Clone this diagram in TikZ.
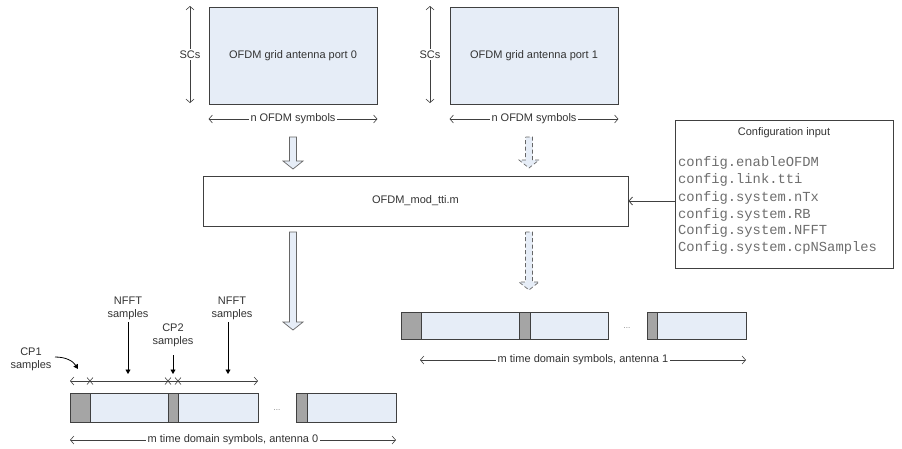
\documentclass[tikz,border=0pt]{standalone}
\usepackage{fontspec}
\setmainfont{Liberation Sans}
\setmonofont{Liberation Mono}
\usetikzlibrary{arrows.meta,calc}
\definecolor{lb}{HTML}{E6EDF7}
\definecolor{cpg}{HTML}{A5A5A5}
\definecolor{bd}{HTML}{404040}
\definecolor{tx}{HTML}{333333}
\definecolor{monoc}{HTML}{6E6E6E}
\newcommand\blkarrow[3]{%
  \path[#1] let \p1=#2, \p2=#3 in
    ({\x1-3.5pt},\y1) -- ({\x1+3.5pt},\y1) -- ({\x1+3.5pt},{\y2+8pt}) --
    ({\x1+10pt},{\y2+8pt}) -- (\x1,\y2) -- ({\x1-10pt},{\y2+8pt}) --
    ({\x1-3.5pt},{\y2+8pt}) -- cycle;}
\begin{document}
\begin{tikzpicture}[x=1pt,y=-1pt,
  font=\fontsize{11}{13}\selectfont, text=tx,
  gridbox/.style={draw=bd,fill=lb,line width=0.9pt,minimum width=168pt,minimum height=97pt,inner sep=0pt},
  plainbox/.style={draw=bd,fill=white,line width=0.9pt,inner sep=0pt},
  symbox/.style={draw=bd,fill=lb,line width=0.9pt,minimum height=29pt,inner sep=0pt,anchor=north west},
  cpbox/.style={draw=bd,fill=cpg,line width=0.9pt},
  dimline/.style={draw=bd,line width=0.6pt,{Straight Barb[length=3.5pt,width=8pt]}-{Straight Barb[length=3.5pt,width=8pt]}},
  onlabel/.style={fill=white,inner sep=1.5pt},
  pointer/.style={draw=black,line width=0.8pt,-{Triangle[length=4.5pt,width=5pt]}},
  blksolid/.style={draw=bd!80,fill=lb,line width=0.7pt},
  blkdashed/.style={draw=bd!80,fill=lb,line width=0.7pt,dash pattern=on 4pt off 2.5pt},
  monoline/.style={font=\fontsize{13.8}{16}\ttfamily,text=monoc,anchor=west,inner sep=0pt,text height=9pt,text depth=3pt},
  dotsl/.style={font=\fontsize{8}{9}\selectfont,text=bd!70}
]
\useasboundingbox (0,0) rectangle (902,448);

% OFDM grids
\node[gridbox] (g0) at (293,55.5) {OFDM grid antenna port 0};
\node[gridbox] (g1) at (534,55.5) {OFDM grid antenna port 1};
\draw[dimline] (190,6) -- (190,103) node[midway,onlabel] (sc0) {SCs};
\draw[dimline] (430,6) -- (430,103) node[midway,onlabel] (sc1) {SCs};
\draw[dimline] (g0.south west |- 0,119) -- (g0.south east |- 0,119) node[midway,onlabel] (n0) {n OFDM symbols};
\draw[dimline] (g1.south west |- 0,119) -- (g1.south east |- 0,119) node[midway,onlabel] (n1) {n OFDM symbols};

% modulator
\node[plainbox,minimum width=425pt,minimum height=50pt] (mod) at (415.5,201) {OFDM\_mod\_tti.m};

% configuration
\node[plainbox,minimum width=218pt,minimum height=148pt] (cfg) at (784,194) {};
\node (cfgt) at (784,133) {Configuration input};
\node[monoline] (c1) at (678,163) {config.enableOFDM};
\node[monoline] (c2) at (678,180.5) {config.link.tti};
\node[monoline] (c3) at (678,198) {config.system.nTx};
\node[monoline] (c4) at (678,215) {config.system.RB};
\node[monoline] (c5) at (678,231.5) {Config.system.NFFT};
\node[monoline] (c6) at (678,248.5) {Config.system.cpNSamples};
\draw[draw=bd,line width=0.8pt,-{Straight Barb[length=3.5pt,width=8pt]}] (cfg.west |- mod.east) -- (mod.east);

% block arrows
\coordinate (a0t) at (293,137); \coordinate (a0b) at (293,169);
\coordinate (a1t) at (529,137); \coordinate (a1b) at (529,168);
\coordinate (a2t) at (293,232); \coordinate (a2b) at (293,330);
\coordinate (a3t) at (529,232); \coordinate (a3b) at (529,290);
\blkarrow{blksolid}{(a0t)}{(a0b)}
\blkarrow{blkdashed}{(a1t)}{(a1b)}
\blkarrow{blksolid}{(a2t)}{(a2b)}
\blkarrow{blkdashed}{(a3t)}{(a3b)}

% antenna 0 symbols
\node[symbox,minimum width=188pt] (s0) at (70,393) {};
\draw[cpbox] (s0.north west) rectangle ++(20,29);
\draw[cpbox] (168,393) rectangle (178,422);
\node[dotsl] (d0) at (277,410) {...};
\node[symbox,minimum width=100pt] (s0b) at (296,393) {};
\draw[cpbox] (s0b.north west) rectangle ++(11,29);
\draw[dimline] (70,440) -- (396,440) node[midway,onlabel] (m0) {m time domain symbols, antenna 0};

% dimension line with ticks
\draw[dimline] (70,381) -- (258,381);
\foreach \xx in {90,168,178}{
  \draw[draw=bd,line width=0.6pt] (\xx-3,377.5) -- (\xx+3,384.5) (\xx-3,384.5) -- (\xx+3,377.5);
}
\node[align=center,inner sep=0pt] (nf1) at (128,308) {NFFT\\samples};
\node[align=center,inner sep=0pt] (cp2) at (173,335.5) {CP2\\samples};
\node[align=center,inner sep=0pt] (nf2) at (232,308) {NFFT\\samples};
\node[align=center,inner sep=0pt] (cp1) at (31,359.5) {CP1\\samples};
\coordinate (p1) at (128,374); \coordinate (p2) at (173,374); \coordinate (p3) at (228,374);
\draw[pointer] (128,322) -- (p1);
\draw[pointer] (173,355) -- (p2);
\draw[pointer] (228,322) -- (p3);
\coordinate (cpe) at (78,369);
\draw[pointer] (55,357) .. controls (66,357) and (73,361) .. (cpe);

% antenna 1 symbols
\node[symbox,minimum width=207pt,minimum height=27pt] (s1) at (401,312) {};
\draw[cpbox] (s1.north west) rectangle ++(20,27);
\draw[cpbox] (519,312) rectangle (530,339);
\node[dotsl] (d1) at (627,328) {...};
\node[symbox,minimum width=99pt,minimum height=27pt] (s1b) at (647,312) {};
\draw[cpbox] (s1b.north west) rectangle ++(10,27);
\draw[dimline] (420,360) -- (746,360) node[midway,onlabel] (m1) {m time domain symbols, antenna 1};
\end{tikzpicture}
\end{document}
